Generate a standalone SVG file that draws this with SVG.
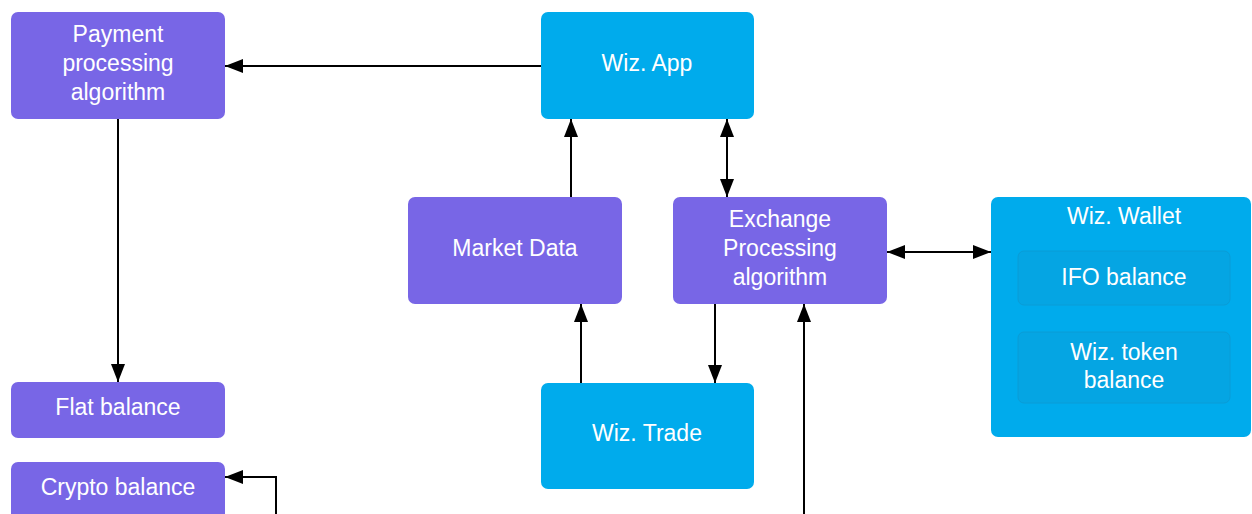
<svg xmlns="http://www.w3.org/2000/svg" width="1252" height="514" viewBox="0 0 1252 514">
<style>
.p{fill:#7866E6;}
.b{fill:#00ABEC;}
.in{fill:#05A5E3;stroke:#0A9CD6;stroke-width:1;}
.t{font-family:"Liberation Sans",Arial,sans-serif;font-size:23px;fill:#FFFFFF;text-anchor:middle;}
.c{stroke:#000;stroke-width:2;fill:none;}
</style>
<defs>
<marker id="ah" viewBox="0 0 18 14" refX="18" refY="7" markerWidth="18" markerHeight="14" markerUnits="userSpaceOnUse" orient="auto-start-reverse">
<path d="M0,0 L18,7 L0,14 Z" fill="#000"/>
</marker>
</defs>
<rect width="1252" height="514" fill="#fff"/>
<g id="connectors">
<line class="c" x1="541" y1="66" x2="225" y2="66" marker-end="url(#ah)"/>
<line class="c" x1="118" y1="119" x2="118" y2="382" marker-end="url(#ah)"/>
<line class="c" x1="571" y1="197" x2="571" y2="119" marker-end="url(#ah)"/>
<line class="c" x1="727" y1="119" x2="727" y2="197" marker-start="url(#ah)" marker-end="url(#ah)"/>
<line class="c" x1="887" y1="252" x2="991" y2="252" marker-start="url(#ah)" marker-end="url(#ah)"/>
<line class="c" x1="581" y1="383" x2="581" y2="304" marker-end="url(#ah)"/>
<line class="c" x1="715" y1="304" x2="715" y2="383" marker-end="url(#ah)"/>
<line class="c" x1="804" y1="514" x2="804" y2="304" marker-end="url(#ah)"/>
<polyline class="c" points="276,514 276,477 225,477" marker-end="url(#ah)"/>
</g>
<g id="payment">
<rect class="p" x="11" y="12" width="214" height="107" rx="7"/>
<text class="t" x="118" y="42">Payment</text>
<text class="t" x="118" y="71">processing</text>
<text class="t" x="118" y="100">algorithm</text>
</g>
<g id="wizapp">
<rect class="b" x="541" y="12" width="213" height="107" rx="7"/>
<text class="t" x="647" y="71">Wiz. App</text>
</g>
<g id="marketdata">
<rect class="p" x="408" y="197" width="214" height="107" rx="7"/>
<text class="t" x="515" y="256">Market Data</text>
</g>
<g id="exchange">
<rect class="p" x="673" y="197" width="214" height="107" rx="7"/>
<text class="t" x="780" y="227">Exchange</text>
<text class="t" x="780" y="256">Processing</text>
<text class="t" x="780" y="285">algorithm</text>
</g>
<g id="wallet">
<rect class="b" x="991" y="197" width="260" height="240" rx="7"/>
<text class="t" x="1124" y="224">Wiz. Wallet</text>
<g id="ifo">
<rect class="in" x="1018" y="251" width="212" height="54" rx="6"/>
<text class="t" x="1124" y="285">IFO balance</text>
</g>
<g id="token">
<rect class="in" x="1018" y="332" width="212" height="71" rx="6"/>
<text class="t" x="1124" y="360">Wiz. token</text>
<text class="t" x="1124" y="388">balance</text>
</g>
</g>
<g id="flat">
<rect class="p" x="11" y="382" width="214" height="56" rx="7"/>
<text class="t" x="118" y="415">Flat balance</text>
</g>
<g id="crypto">
<rect class="p" x="11" y="462" width="214" height="60" rx="7"/>
<text class="t" x="118" y="495">Crypto balance</text>
</g>
<g id="wiztrade">
<rect class="b" x="541" y="383" width="213" height="106" rx="7"/>
<text class="t" x="647" y="441">Wiz. Trade</text>
</g>
</svg>
